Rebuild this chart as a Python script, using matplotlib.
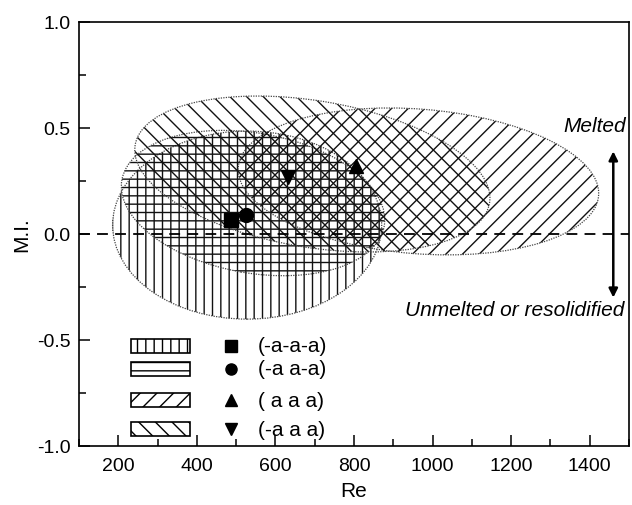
import matplotlib
matplotlib.use('Agg')
import matplotlib.pyplot as plt
from matplotlib.patches import Ellipse, Rectangle
from matplotlib.transforms import Affine2D
from matplotlib.ticker import MultipleLocator

plt.rcParams['font.family'] = ['Liberation Sans', 'DejaVu Sans']
plt.rcParams['axes.unicode_minus'] = False
plt.rcParams['hatch.linewidth'] = 1.0

# series, in legend order
labels = ['(-a-a-a)', '(-a a-a)', '( a a a)', '(-a a a)']
markers = ['s', 'o', '^', 'v']
hatches = ['||', '--', '//', '\\\\']

# mean points
pt_re = [487, 525, 806, 632]
pt_mi = [0.066, 0.09, 0.32, 0.27]

# spread ellipses: centre, size along tilted axes, tilt (deg)
ell_re = [528, 543, 964, 694]
ell_mi = [0.042, 0.146, 0.248, 0.283]
ell_w = [685, 678, 920, 914]
ell_h = [0.887, 0.66, 0.682, 0.692]
ell_ang = [0, -10, -4.5, -9.3]

fig = plt.figure(figsize=(6.32, 5.06), dpi=100)
ax = fig.add_axes([79/632, 59/506, 550/632, 424/506])
ax.set_xlim(100, 1500)
ax.set_ylim(-1.0, 1.0)

# scale so the tilt angle is visual
w_in = 550/100
h_in = 424/100
k = (1400 / w_in) / (2.0 / h_in)
trans = Affine2D().scale(k, 1) + ax.transData

for i in range(4):
    e = Ellipse((ell_re[i]/k, ell_mi[i]), ell_w[i]/k, ell_h[i], angle=ell_ang[i],
                transform=trans, fill=False, hatch=hatches[i], edgecolor='#111111',
                linewidth=0)
    ax.add_patch(e)
    e2 = Ellipse((ell_re[i]/k, ell_mi[i]), ell_w[i]/k, ell_h[i], angle=ell_ang[i],
                 transform=trans, fill=False, edgecolor='#444444',
                 linewidth=0.9, linestyle=(0, (1, 1)))
    ax.add_patch(e2)

ax.axhline(0, color='black', lw=1.3, ls=(0, (6, 4)), zorder=3)

for i in range(4):
    ax.plot(pt_re[i], pt_mi[i], marker=markers[i], color='black', ms=10, ls='none', zorder=5)

# legend drawn by hand in the lower left
rows = [0.236, 0.182, 0.108, 0.040]
for i in range(4):
    ax.add_patch(Rectangle((0.0945, rows[i]-0.0165), 0.107, 0.033, transform=ax.transAxes,
                           fill=False, hatch=hatches[i], edgecolor='black', lw=1.2))
    ax.plot(0.276, rows[i], marker=markers[i], color='black', ms=8, ls='none',
            transform=ax.transAxes)
    ax.text(0.325, rows[i], labels[i], transform=ax.transAxes, fontsize=15,
            va='center', ha='left')

# melted / unmelted arrow
ax.annotate('', xy=(1460, 0.39), xytext=(1460, -0.30),
            arrowprops=dict(arrowstyle='<|-|>', color='black', lw=1.8,
                            mutation_scale=13, shrinkA=0, shrinkB=0))
ax.text(1492, 0.51, 'Melted', style='italic', fontsize=15, ha='right', va='center')
ax.text(1488, -0.355, 'Unmelted or resolidified', style='italic', fontsize=15,
        ha='right', va='center')

ax.set_xticks([200, 400, 600, 800, 1000, 1200, 1400])
ax.set_yticks([-1.0, -0.5, 0.0, 0.5, 1.0])
ax.set_yticklabels(['-1.0', '-0.5', '0.0', '0.5', '1.0'])
ax.xaxis.set_minor_locator(MultipleLocator(100))
ax.yaxis.set_minor_locator(MultipleLocator(0.25))
ax.tick_params(which='major', direction='in', length=8, width=1.1, labelsize=14, pad=6)
ax.tick_params(axis='x', which='major', pad=8)
ax.tick_params(which='minor', direction='in', length=5, width=1.1)
for s in ax.spines.values():
    s.set_linewidth(1.2)

ax.set_xlabel('Re', fontsize=15, labelpad=5)
ax.set_ylabel('M.I.', fontsize=15, labelpad=4)

fig.savefig('out.png', dpi=100)
